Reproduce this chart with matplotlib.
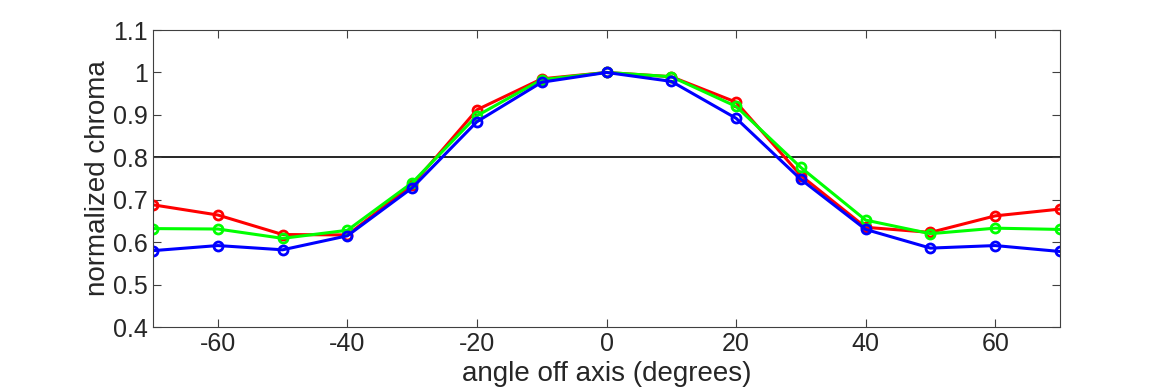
import matplotlib
matplotlib.use("Agg")
import matplotlib.pyplot as plt

angles = [-70, -60, -50, -40, -30, -20, -10, 0, 10, 20, 30, 40, 50, 60, 70]
red = [0.688, 0.664, 0.618, 0.617, 0.735, 0.912, 0.985, 1.0, 0.990, 0.930, 0.757, 0.635, 0.623, 0.662, 0.678]
green = [0.632, 0.631, 0.609, 0.628, 0.740, 0.898, 0.983, 1.0, 0.990, 0.920, 0.776, 0.652, 0.620, 0.633, 0.630]
blue = [0.580, 0.592, 0.582, 0.615, 0.728, 0.884, 0.977, 1.0, 0.979, 0.892, 0.748, 0.630, 0.586, 0.592, 0.578]
threshold = 0.8

plt.rcParams['font.family'] = ['Liberation Sans', 'DejaVu Sans']
plt.rcParams['axes.unicode_minus'] = False
text_color = '#262626'

fig = plt.figure(figsize=(11.7, 3.9), dpi=100)
ax = fig.add_axes([0.1308, 0.1615, 0.7752, 0.7615])

ax.axhline(threshold, color='black', lw=1.2, zorder=1)
for vals, col in [(red, '#ff0000'), (green, '#00ff00'), (blue, '#0000ff')]:
    ax.plot(angles, vals, color=col, lw=2.2, marker='o', markersize=6.5,
            markerfacecolor='none', markeredgewidth=2, zorder=2)

ax.set_xlim(-70, 70)
ax.set_ylim(0.4, 1.1)
ax.set_xticks([-60, -40, -20, 0, 20, 40, 60])
ax.set_yticks([0.4, 0.5, 0.6, 0.7, 0.8, 0.9, 1.0, 1.1])
ax.set_yticklabels(['0.4', '0.5', '0.6', '0.7', '0.8', '0.9', '1', '1.1'])
ax.tick_params(direction='in', top=True, right=True, labelsize=18,
               labelcolor=text_color, length=6, color='#404040')
for s in ax.spines.values():
    s.set_color('#404040')
ax.set_xlabel('angle off axis (degrees)', fontsize=20, color=text_color, labelpad=4)
ax.set_ylabel('normalized chroma', fontsize=20, color=text_color, labelpad=2)

fig.savefig('out.png', dpi=100)
